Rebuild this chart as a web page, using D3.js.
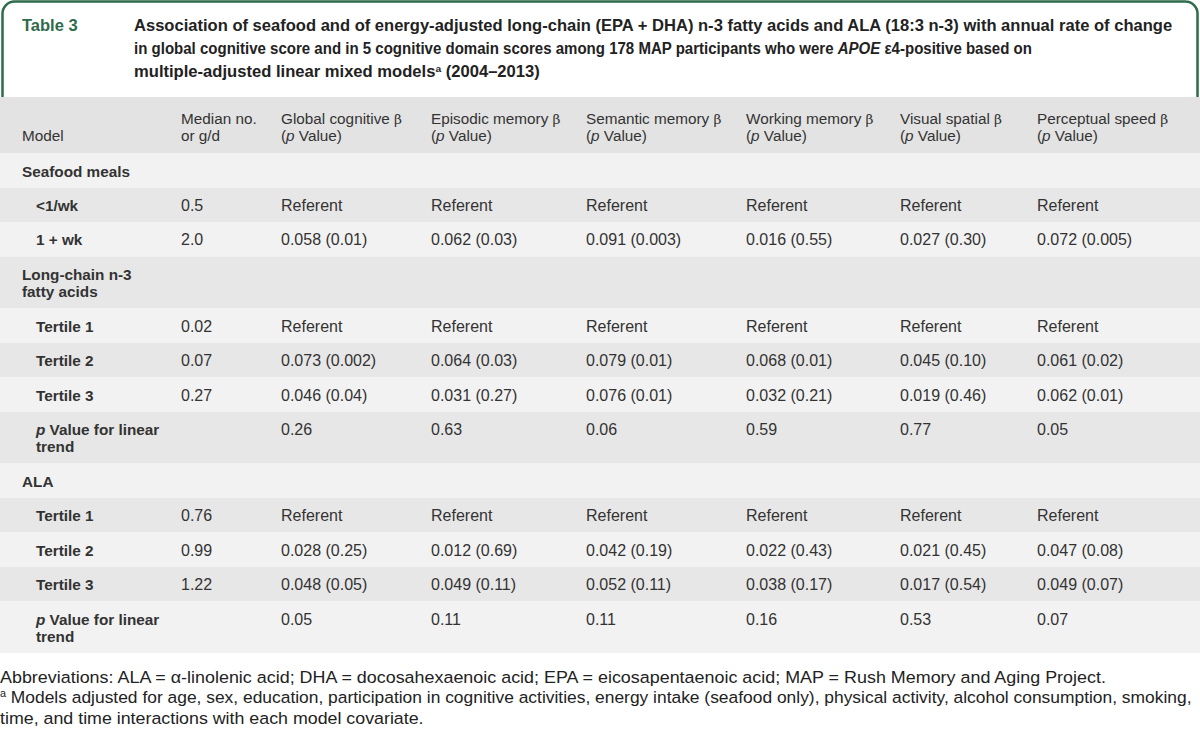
<!DOCTYPE html>
<html>
<head>
<meta charset="utf-8">
<script src="https://cdn.jsdelivr.net/npm/d3@7"></script>
<style>
  html, body { margin: 0; padding: 0; background: #ffffff; }
  svg { display: block; font-family: "Liberation Sans", Arial, sans-serif; }
</style>
</head>
<body>
<svg id="chart" width="1200" height="733"></svg>
<script>
// ---------------- data ----------------
const tableLabel = "Table 3";
const titleLines = [
  [{t: "Association of seafood and of energy-adjusted long-chain (EPA + DHA) n-3 fatty acids and ALA (18:3 n-3) with annual rate of change"}],
  [{t: "in global cognitive score and in 5 cognitive domain scores among 178 MAP participants who were "}, {t: "APOE", i: true}, {t: " ε4-positive based on"}],
  [{t: "multiple-adjusted linear mixed models"}, {t: "a", sup: true}, {t: " (2004–2013)"}]
];
const columnHeaders = [
  [[], [{t: "Model"}]],
  [[{t: "Median no."}], [{t: "or g/d"}]],
  [[{t: "Global cognitive "}, {t: "β", b: true}], [{t: "("}, {t: "p", i: true}, {t: " Value)"}]],
  [[{t: "Episodic memory "}, {t: "β", b: true}], [{t: "("}, {t: "p", i: true}, {t: " Value)"}]],
  [[{t: "Semantic memory "}, {t: "β", b: true}], [{t: "("}, {t: "p", i: true}, {t: " Value)"}]],
  [[{t: "Working memory "}, {t: "β", b: true}], [{t: "("}, {t: "p", i: true}, {t: " Value)"}]],
  [[{t: "Visual spatial "}, {t: "β", b: true}], [{t: "("}, {t: "p", i: true}, {t: " Value)"}]],
  [[{t: "Perceptual speed "}, {t: "β", b: true}], [{t: "("}, {t: "p", i: true}, {t: " Value)"}]]
];
const rowLabels = [
  ["Seafood meals"], ["<1/wk"], ["1 + wk"],
  ["Long-chain n-3", "fatty acids"], ["Tertile 1"], ["Tertile 2"], ["Tertile 3"], ["p Value for linear", "trend"],
  ["ALA"], ["Tertile 1"], ["Tertile 2"], ["Tertile 3"], ["p Value for linear", "trend"]
];
const rowIndent = [0, 1, 1, 0, 1, 1, 1, 1, 0, 1, 1, 1, 1];
const medianValues = ["", "0.5", "2.0", "", "0.02", "0.07", "0.27", "", "", "0.76", "0.99", "1.22", ""];
const globalCognitive = ["", "Referent", "0.058 (0.01)", "", "Referent", "0.073 (0.002)", "0.046 (0.04)", "0.26", "", "Referent", "0.028 (0.25)", "0.048 (0.05)", "0.05"];
const episodicMemory = ["", "Referent", "0.062 (0.03)", "", "Referent", "0.064 (0.03)", "0.031 (0.27)", "0.63", "", "Referent", "0.012 (0.69)", "0.049 (0.11)", "0.11"];
const semanticMemory = ["", "Referent", "0.091 (0.003)", "", "Referent", "0.079 (0.01)", "0.076 (0.01)", "0.06", "", "Referent", "0.042 (0.19)", "0.052 (0.11)", "0.11"];
const workingMemory = ["", "Referent", "0.016 (0.55)", "", "Referent", "0.068 (0.01)", "0.032 (0.21)", "0.59", "", "Referent", "0.022 (0.43)", "0.038 (0.17)", "0.16"];
const visualSpatial = ["", "Referent", "0.027 (0.30)", "", "Referent", "0.045 (0.10)", "0.019 (0.46)", "0.77", "", "Referent", "0.021 (0.45)", "0.017 (0.54)", "0.53"];
const perceptualSpeed = ["", "Referent", "0.072 (0.005)", "", "Referent", "0.061 (0.02)", "0.062 (0.01)", "0.05", "", "Referent", "0.047 (0.08)", "0.049 (0.07)", "0.07"];
const footnotes = [
  [{t: "Abbreviations: ALA = α-linolenic acid; DHA = docosahexaenoic acid; EPA = eicosapentaenoic acid; MAP = Rush Memory and Aging Project."}],
  [{t: "a", sup: true}, {t: " Models adjusted for age, sex, education, participation in cognitive activities, energy intake (seafood only), physical activity, alcohol consumption, smoking,"}],
  [{t: "time, and time interactions with each model covariate."}]
];

// ---------------- layout ----------------
const W = 1200, H = 733;
const svg = d3.select("#chart");
const green = "#2f6b4b";
const textDark = "#222";
const textCell = "#333";

const valueColumns = [medianValues, globalCognitive, episodicMemory, semanticMemory, workingMemory, visualSpatial, perceptualSpeed];
const colIndex = d3.range(columnHeaders.length);
const colX = d3.scaleOrdinal().domain(colIndex).range([22, 181, 281, 431, 586, 746, 900, 1037]);

const rowUnits = rowLabels.map(l => l.length > 1 ? 1.5 : 1);
const rowStart = rowUnits.map((u, i) => d3.sum(rowUnits.slice(0, i)));
const totalUnits = d3.sum(rowUnits);
const headerTop = 97, bodyTop = 153, bodyBottom = 653;
const y = d3.scaleLinear().domain([0, totalUnits]).range([bodyTop, bodyBottom]);

function addRuns(textSel, runs) {
  runs.forEach(r => {
    const ts = textSel.append("tspan").text(r.t);
    if (r.i) ts.attr("font-style", "italic");
    if (r.b) ts.attr("font-family", "'DejaVu Serif', serif").attr("font-size", "0.9em");
    if (r.sup) ts.attr("font-size", "0.62em").attr("baseline-shift", "super");
  });
}

// place a line of text so that it spans [x0, x1] horizontally
function fitLine(parent, runs, x0, x1, yb, attrs) {
  const g = parent.append("g");
  const t = g.append("text").attr("x", 0).attr("y", 0);
  Object.entries(attrs).forEach(([k, v]) => t.attr(k, v));
  addRuns(t, runs);
  const natural = t.node().getComputedTextLength() || (x1 - x0);
  const k = (x1 - x0) / natural;
  g.attr("transform", `translate(${x0},${yb}) scale(${k},1)`);
}

// ---- title box ----
const r = 12;
const boxPath = d3.path();
boxPath.moveTo(2.5, headerTop);
boxPath.lineTo(2.5, r + 2);
boxPath.arcTo(2.5, 1.5, r + 2, 1.5, r);
boxPath.lineTo(W - r - 2, 1.5);
boxPath.arcTo(W - 2.5, 1.5, W - 2.5, r + 2, r);
boxPath.lineTo(W - 2.5, headerTop);
svg.append("path").attr("d", boxPath.toString())
  .attr("fill", "#fff").attr("stroke", green).attr("stroke-width", 2.5);

svg.append("text").attr("x", 22).attr("y", 30.5)
  .attr("font-size", 16.5).attr("font-weight", "bold").attr("fill", green)
  .text(tableLabel);

const titleX = 134;
const titleEnds = [1172, 1032, 540];
const titleY = d3.scaleLinear().domain([0, 1]).range([30.5, 53.5]);
const titleG = svg.append("g");
titleLines.forEach((runs, i) => fitLine(titleG, runs, titleX, titleEnds[i], titleY(i),
  {"font-size": 15.6, "font-weight": "bold", "fill": textDark}));

// ---- header band ----
svg.append("rect").attr("x", 0).attr("y", headerTop).attr("width", W).attr("height", bodyTop - headerTop)
  .attr("fill", "#e3e3e3");
const hdrLineY = d3.scaleLinear().domain([0, 1]).range([123.5, 140.5]);
const hdr = svg.append("g").selectAll("g").data(columnHeaders).join("g");
hdr.each(function(lines, ci) {
  d3.select(this).selectAll("text").data(lines).join("text")
    .attr("x", colX(ci)).attr("y", (d, li) => hdrLineY(li))
    .attr("font-size", 15.3).attr("fill", textCell)
    .each(function(runs) { addRuns(d3.select(this), runs); });
});

// ---- body rows ----
const rows = svg.append("g").selectAll("g").data(rowLabels).join("g");
rows.append("rect")
  .attr("x", 0).attr("width", W)
  .attr("y", (d, i) => y(rowStart[i]))
  .attr("height", (d, i) => y(rowStart[i] + rowUnits[i]) - y(rowStart[i]))
  .attr("fill", (d, i) => i % 2 === 0 ? "#f2f2f2" : "#e7e7e7");

const lineGap = 17;
rows.each(function(lines, ri) {
  const g = d3.select(this);
  const base = y(rowStart[ri]) + 23.5;
  g.selectAll("text.label").data(lines).join("text").attr("class", "label")
    .attr("x", colX(0) + rowIndent[ri] * 14)
    .attr("y", (d, li) => base + li * lineGap)
    .attr("font-size", 15.3).attr("font-weight", "bold").attr("fill", textCell)
    .each(function(s) {
      const t = d3.select(this);
      if (s.startsWith("p Value")) {
        t.append("tspan").attr("font-style", "italic").text("p");
        t.append("tspan").text(s.slice(1));
      } else t.text(s);
    });
  valueColumns.forEach((col, k) => {
    if (!col[ri]) return;
    g.append("text").attr("x", colX(k + 1)).attr("y", base)
      .attr("font-size", 16).attr("fill", textCell).text(col[ri]);
  });
});

// ---- footnotes ----
const footEnds = [1106, 1192, 424];
const footY = d3.scaleLinear().domain([0, 1]).range([682.5, 703]);
const footG = svg.append("g");
footnotes.forEach((runs, i) => fitLine(footG, runs, 0, footEnds[i], footY(i),
  {"font-size": 16.5, "fill": textDark}));
</script>
</body>
</html>
